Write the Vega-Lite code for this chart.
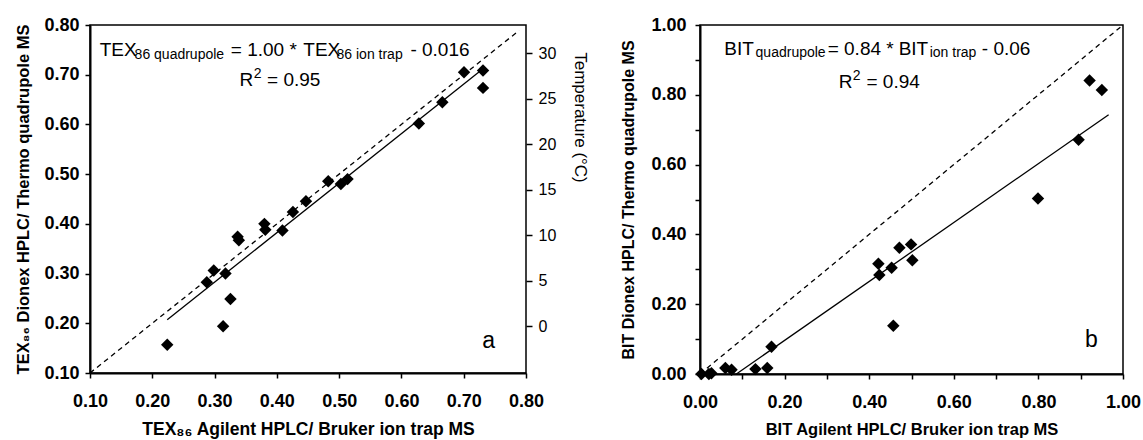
{
  "$schema": "https://vega.github.io/schema/vega-lite/v6.json",
  "padding": {"left": 15, "top": 15, "right": 5, "bottom": 0},
  "background": "white",
  "spacing": 174,
  "bounds": "flush",
  "datasets": {
    "tex_points": [
      {"x": 0.224, "y": 0.157}, {"x": 0.2875, "y": 0.2825}, {"x": 0.2987, "y": 0.306}, {"x": 0.3175, "y": 0.300},
      {"x": 0.3137, "y": 0.194}, {"x": 0.3255, "y": 0.249}, {"x": 0.337, "y": 0.374}, {"x": 0.339, "y": 0.367},
      {"x": 0.380, "y": 0.400}, {"x": 0.3815, "y": 0.388}, {"x": 0.409, "y": 0.3865}, {"x": 0.4258, "y": 0.424},
      {"x": 0.4467, "y": 0.4455}, {"x": 0.4825, "y": 0.4857}, {"x": 0.5028, "y": 0.480}, {"x": 0.5135, "y": 0.490},
      {"x": 0.628, "y": 0.602}, {"x": 0.6657, "y": 0.6447}, {"x": 0.7005, "y": 0.705}, {"x": 0.731, "y": 0.7085},
      {"x": 0.731, "y": 0.6735}
    ],
    "tex_fit": [{"x": 0.224, "y": 0.207}, {"x": 0.728, "y": 0.709}],
    "tex_one": [{"x": 0.1, "y": 0.1}, {"x": 0.789, "y": 0.789}],
    "tex_big": [
      {"t": "TEX", "x": 0.1155, "y": 0.7372},
      {"t": "= 1.00 *", "x": 0.326, "y": 0.7372},
      {"t": "TEX", "x": 0.4425, "y": 0.7372},
      {"t": "- 0.016", "x": 0.6144, "y": 0.7372},
      {"t": "R", "x": 0.3399, "y": 0.6769},
      {"t": "= 0.95", "x": 0.3843, "y": 0.6769}
    ],
    "tex_small": [
      {"t": "86 quadrupole", "x": 0.1716, "y": 0.7326},
      {"t": "86 ion trap", "x": 0.4958, "y": 0.7326},
      {"t": "2", "x": 0.3628, "y": 0.6936}
    ],
    "tex_label": [{"t": "a", "x": 0.7298, "y": 0.1503}],
    "bit_points": [
      {"x": 0.0035, "y": 0.0}, {"x": 0.021, "y": 0.0}, {"x": 0.027, "y": 0.002}, {"x": 0.060, "y": 0.017},
      {"x": 0.0746, "y": 0.012}, {"x": 0.131, "y": 0.014}, {"x": 0.159, "y": 0.017}, {"x": 0.169, "y": 0.078},
      {"x": 0.4217, "y": 0.316}, {"x": 0.424, "y": 0.2837}, {"x": 0.453, "y": 0.3047}, {"x": 0.457, "y": 0.138},
      {"x": 0.4714, "y": 0.3618}, {"x": 0.499, "y": 0.3714}, {"x": 0.502, "y": 0.3257}, {"x": 0.799, "y": 0.503},
      {"x": 0.895, "y": 0.671}, {"x": 0.921, "y": 0.841}, {"x": 0.950, "y": 0.814}
    ],
    "bit_fit": [{"x": 0.086, "y": 0.0}, {"x": 0.966, "y": 0.743}],
    "bit_one": [{"x": 0.0, "y": 0.0}, {"x": 1.0, "y": 1.0}],
    "bit_big": [
      {"t": "BIT", "x": 0.0573, "y": 0.9143},
      {"t": "= 0.84 *", "x": 0.3018, "y": 0.9143},
      {"t": "BIT", "x": 0.4696, "y": 0.9143},
      {"t": "- 0.06", "x": 0.6663, "y": 0.9143},
      {"t": "R", "x": 0.3278, "y": 0.8189},
      {"t": "= 0.94", "x": 0.3936, "y": 0.8189}
    ],
    "bit_small": [
      {"t": "quadrupole", "x": 0.1314, "y": 0.9074},
      {"t": "ion trap", "x": 0.543, "y": 0.9074},
      {"t": "2", "x": 0.3609, "y": 0.8437}
    ],
    "bit_label": [{"t": "b", "x": 0.9101, "y": 0.076}],
    "temp": [{"temp": 0}]
  },
  "hconcat": [
    {
      "width": 436,
      "height": 348,
      "layer": [
        {
          "encoding": {
            "x": {"field": "x", "type": "quantitative",
              "scale": {"domain": [0.1, 0.8], "nice": false, "zero": false},
              "axis": {"values": [0.1, 0.2, 0.3, 0.4, 0.5, 0.6, 0.7, 0.8], "format": ".2f", "labelPadding": 14,
                "title": "TEX₈₆ Agilent HPLC/ Bruker ion trap MS", "titleFontSize": 17.5, "titlePadding": 10}},
            "y": {"field": "y", "type": "quantitative",
              "scale": {"domain": [0.1, 0.8], "nice": false, "zero": false},
              "axis": {"values": [0.1, 0.2, 0.3, 0.4, 0.5, 0.6, 0.7, 0.8], "format": ".2f", "labelPadding": 6,
                "title": "TEX₈₆ Dionex HPLC/ Thermo quadrupole MS", "titleFontSize": 16.5, "titlePadding": 12}}
          },
          "layer": [
            {"data": {"name": "tex_one"}, "mark": {"type": "line", "color": "black", "strokeWidth": 1.3, "strokeDash": [5, 4]}},
            {"data": {"name": "tex_fit"}, "mark": {"type": "line", "color": "black", "strokeWidth": 1.3}},
            {"data": {"name": "tex_points"}, "mark": {"type": "point", "shape": "diamond", "filled": true, "color": "black", "opacity": 1, "size": 155}},
            {"data": {"name": "tex_big"}, "mark": {"type": "text", "align": "left", "baseline": "alphabetic", "fontSize": 19, "color": "black"},
              "encoding": {"text": {"field": "t"}}},
            {"data": {"name": "tex_small"}, "mark": {"type": "text", "align": "left", "baseline": "alphabetic", "fontSize": 14, "color": "black"},
              "encoding": {"text": {"field": "t"}}},
            {"data": {"name": "tex_label"}, "mark": {"type": "text", "align": "left", "baseline": "alphabetic", "fontSize": 23, "color": "black"},
              "encoding": {"text": {"field": "t"}}}
          ]
        },
        {
          "data": {"name": "temp"},
          "mark": {"type": "rule", "opacity": 0},
          "encoding": {
            "y": {"field": "temp", "type": "quantitative",
              "scale": {"domain": [-5.14, 33.11], "nice": false, "zero": false},
              "axis": {"orient": "right", "values": [0, 5, 10, 15, 20, 25, 30], "tickSize": 6, "labelPadding": 6,
                "labelFontWeight": "normal", "labelFontSize": 16, "domain": false,
                "title": "Temperature (°C)", "titleFontWeight": "normal", "titleFontSize": 17,
                "titleAngle": 90, "titleAlign": "center", "titleBaseline": "middle", "titleX": 53, "titleY": 92}}
          }
        }
      ],
      "resolve": {"scale": {"y": "independent"}, "axis": {"y": "independent"}}
    },
    {
      "width": 423,
      "height": 349,
      "encoding": {
        "x": {"field": "x", "type": "quantitative",
          "scale": {"domain": [0, 1], "nice": false, "zero": false},
          "axis": {"values": [0, 0.1, 0.2, 0.3, 0.4, 0.5, 0.6, 0.7, 0.8, 0.9, 1.0], "labelExpr": "round(datum.value*10) % 2 == 0 ? format(datum.value, '.2f') : ''", "labelPadding": 14,
            "title": "BIT Agilent HPLC/ Bruker ion trap MS", "titleFontSize": 16.5, "titlePadding": 10}},
        "y": {"field": "y", "type": "quantitative",
          "scale": {"domain": [0, 1], "nice": false, "zero": false},
          "axis": {"values": [0, 0.1, 0.2, 0.3, 0.4, 0.5, 0.6, 0.7, 0.8, 0.9, 1.0], "labelExpr": "round(datum.value*10) % 2 == 0 ? format(datum.value, '.2f') : ''", "labelPadding": 9,
            "title": "BIT Dionex HPLC/ Thermo quadrupole MS", "titleFontSize": 16, "titlePadding": 14}}
      },
      "layer": [
        {"data": {"name": "bit_one"}, "mark": {"type": "line", "color": "black", "strokeWidth": 1.3, "strokeDash": [5, 4]}},
        {"data": {"name": "bit_fit"}, "mark": {"type": "line", "color": "black", "strokeWidth": 1.3}},
        {"data": {"name": "bit_points"}, "mark": {"type": "point", "shape": "diamond", "filled": true, "color": "black", "opacity": 1, "size": 155}},
        {"data": {"name": "bit_big"}, "mark": {"type": "text", "align": "left", "baseline": "alphabetic", "fontSize": 19, "color": "black"},
          "encoding": {"text": {"field": "t"}}},
        {"data": {"name": "bit_small"}, "mark": {"type": "text", "align": "left", "baseline": "alphabetic", "fontSize": 14, "color": "black"},
          "encoding": {"text": {"field": "t"}}},
        {"data": {"name": "bit_label"}, "mark": {"type": "text", "align": "left", "baseline": "alphabetic", "fontSize": 23, "color": "black"},
          "encoding": {"text": {"field": "t"}}}
      ]
    }
  ],
  "config": {
    "font": "Liberation Sans",
    "view": {"stroke": "black", "strokeWidth": 1.5},
    "axis": {
      "grid": false, "domainColor": "black", "domainWidth": 2, "tickColor": "black", "tickWidth": 1.5, "tickSize": 5,
      "labelColor": "black", "labelFont": "Liberation Sans", "labelFontSize": 18, "labelFontWeight": "bold",
      "labelFlush": false, "labelOverlap": false, "labelBound": false,
      "titleColor": "black", "titleFont": "Liberation Sans", "titleFontWeight": "bold"
    },
    "text": {"font": "Liberation Sans"}
  }
}
